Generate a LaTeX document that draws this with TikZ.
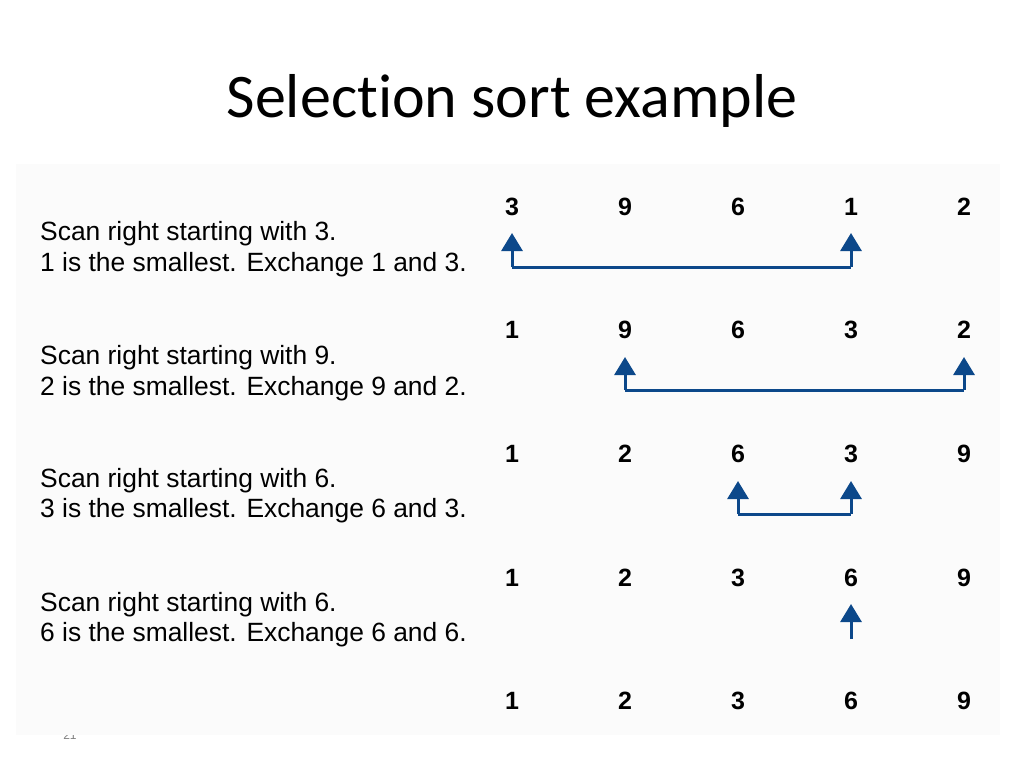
\documentclass[tikz,border=0pt]{standalone}
\usepackage{fontspec}
\setmainfont{Liberation Sans}
\newfontfamily\titlefont[Ligatures={NoCommon}]{Carlito}
\usetikzlibrary{arrows.meta}
\definecolor{arrblue}{RGB}{12,72,138}
\definecolor{panelgray}{RGB}{251,251,251}
\begin{document}
\begin{tikzpicture}[x=1pt,y=-1pt,
  num/.style={anchor=base,inner sep=0pt,font=\bfseries\fontsize{25}{26}\selectfont},
  desc/.style={anchor=base west,inner sep=0pt,font=\fontsize{26.4}{31}\selectfont},
  arr/.style={draw=arrblue,line width=3pt,-{Triangle[width=21pt,length=18pt]}},
  link/.style={draw=arrblue,line width=3pt}]
\useasboundingbox (0,0) rectangle (1024,768);
\fill[white] (0,0) rectangle (1024,768);
% slide number, mostly hidden by the panel
\node[anchor=base,inner sep=0pt,text=gray,font=\fontsize{12}{12}\selectfont] (pg) at (70,739) {21};
\fill[panelgray] (16,164) rectangle (1000,735);
% title
\node[anchor=base,inner sep=0pt,font=\titlefont\fontsize{62}{62}\selectfont] (title) at (512,117) {Selection sort example};
% descriptions
\node[desc] (d1a) at (40,240) {Scan right starting with 3.};
\node[desc] (d1b) at (40,271) {1 is the smallest. Exchange 1 and 3.};
\node[desc] (d2a) at (40,364) {Scan right starting with 9.};
\node[desc] (d2b) at (40,395) {2 is the smallest. Exchange 9 and 2.};
\node[desc] (d3a) at (40,487) {Scan right starting with 6.};
\node[desc] (d3b) at (40,517) {3 is the smallest. Exchange 6 and 3.};
\node[desc] (d4a) at (40,611) {Scan right starting with 6.};
\node[desc] (d4b) at (40,641) {6 is the smallest. Exchange 6 and 6.};
% numbers
\foreach \r/\y/\a/\b/\c/\d/\e in {1/215/3/9/6/1/2, 2/338/1/9/6/3/2, 3/462/1/2/6/3/9, 4/586/1/2/3/6/9, 5/709/1/2/3/6/9}{
  \node[num] (n\r1) at (512,\y) {\a};
  \node[num] (n\r2) at (625,\y) {\b};
  \node[num] (n\r3) at (738,\y) {\c};
  \node[num] (n\r4) at (851,\y) {\d};
  \node[num] (n\r5) at (964,\y) {\e};
}
% arrow tips and corners
\coordinate (t11) at (512,233); \coordinate (t14) at (851,233);
\coordinate (c11) at (512,267); \coordinate (c14) at (851,267);
\coordinate (t22) at (625,357); \coordinate (t25) at (964,357);
\coordinate (c22) at (625,390); \coordinate (c25) at (964,390);
\coordinate (t33) at (738,481); \coordinate (t34) at (851,481);
\coordinate (c33) at (738,514); \coordinate (c34) at (851,514);
\coordinate (t44) at (851,604); \coordinate (c44) at (851,639);
% exchanges
\draw[link] (c11) -- (c14);
\draw[arr] (c11) -- (t11);
\draw[arr] (c14) -- (t14);
\draw[link] (c22) -- (c25);
\draw[arr] (c22) -- (t22);
\draw[arr] (c25) -- (t25);
\draw[link] (c33) -- (c34);
\draw[arr] (c33) -- (t33);
\draw[arr] (c34) -- (t34);
\draw[arr] (c44) -- (t44);
\end{tikzpicture}
\end{document}
